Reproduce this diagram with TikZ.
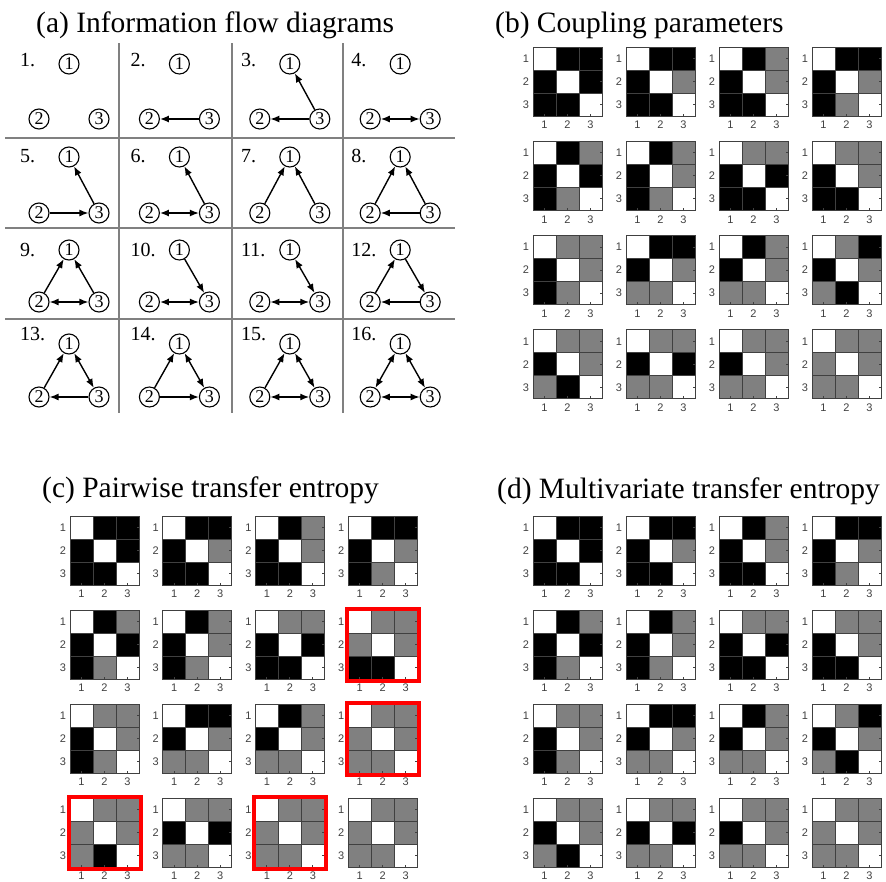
\documentclass[tikz,border=0pt]{standalone}
\usepackage{fontspec}
\setmainfont{Liberation Serif}
\newfontfamily\ticksf{Liberation Sans}
\usepackage{tikz}
\usetikzlibrary{arrows.meta}

\colorlet{cw}{white}
\colorlet{ck}{black}
\definecolor{cg}{gray}{0.5}
\definecolor{sepgray}{gray}{0.5}

\tikzset{
  vtx/.style={circle, draw, line width=1.1pt, inner sep=0pt, minimum size=20pt,
    font=\fontsize{18}{18}\selectfont},
  flow/.style={line width=1.4pt},
  lbl/.style={anchor=base west, inner sep=0pt, font=\fontsize{20}{20}\selectfont},
  ttl/.style={anchor=base west, inner sep=0pt, font=\fontsize{29.5}{30}\selectfont},
  sepline/.style={draw=sepgray, line width=2pt},
  cellln/.style={draw=black!75, line width=0.9pt},
  tick/.style={inner sep=0pt, text=black!75, font=\ticksf\fontsize{11}{11}\selectfont},
  redbox/.style={draw=red, line width=4pt},
}

% one 3x3 coupling matrix: name, left, top, nine colours (w/k/g)
\newcommand{\cmat}[4]{%
  \begin{scope}[shift={(#2,#3)}]
    \edef\mlist{#4}
    \coordinate (#1-nw) at (0,0);
    \coordinate (#1-se) at (69,69);
    \foreach \cl [count=\i from 0] in \mlist {
      \pgfmathtruncatemacro\mr{div(\i,3)}
      \pgfmathtruncatemacro\mc{mod(\i,3)}
      \fill[fill=c\cl] (23*\mc,23*\mr) rectangle ++(23,23);
    }
    \foreach \j in {23,46} {
      \draw[cellln] (\j,0) -- (\j,69);
      \draw[cellln] (0,\j) -- (69,\j);
    }
    \draw[cellln] (#1-nw) rectangle (#1-se);
    \foreach \j in {1,2,3} {
      \node[tick] (#1-r\j) at (-7,23*\j-11.5) {\j};
      \node[tick] (#1-c\j) at (23*\j-11.5,78) {\j};
      \draw[cellln] (69,23*\j-11.5) -- ++(-2.5,0);
      \draw[cellln] (23*\j-11.5,69) -- ++(0,-2.5);
    }
  \end{scope}}

\begin{document}
\begin{tikzpicture}[x=1pt, y=-1pt, >={Latex[length=9pt,width=7pt]}]
  \useasboundingbox (0,0) rectangle (886,881);

  \node[ttl] (ta) at (36,32) {(a) Information flow diagrams};
  \node[ttl] (tb) at (495,32) {(b) Coupling parameters};
  \node[ttl] (tc) at (42,497) {(c) Pairwise transfer entropy};
  \node[ttl] (td) at (497,498) {(d) Multivariate transfer entropy};

  % (a) grid of flow diagrams
  \draw[sepline] (5,138) -- (455,138);
  \draw[sepline] (5,228) -- (455,228);
  \draw[sepline] (5,319) -- (455,319);
  \draw[sepline] (119,43) -- (119,413);
  \draw[sepline] (232,43) -- (232,413);
  \draw[sepline] (343,43) -- (343,413);

  \foreach \k in {0,...,15} {
    \pgfmathtruncatemacro\n{\k+1}
    \pgfmathtruncatemacro\col{mod(\k,4)}
    \pgfmathtruncatemacro\row{div(\k,4)}
    \pgfmathsetmacro\cx{69+110.4*\col}
    \pgfmathsetmacro\ty{{64,157,250,344}[\row]}
    \pgfmathsetmacro\by{{119,213,302,397}[\row]}
    \pgfmathsetmacro\ly{{66,162,256,340}[\row]}
    \node[vtx] (f\n-1) at (\cx,\ty) {1};
    \node[vtx] (f\n-2) at (\cx-30,\by) {2};
    \node[vtx] (f\n-3) at (\cx+30,\by) {3};
    \node[lbl] (n\n) at (\cx-49,\ly) {\n.};
  }

  \foreach \d/\a/\b in {2/3/2, 3/3/1, 3/3/2, 5/3/1, 5/2/3, 6/3/1, 7/2/1, 7/3/1,
      8/2/1, 8/3/1, 8/3/2, 9/2/1, 9/3/1, 10/1/3, 12/2/1, 12/1/3, 12/3/2,
      13/2/1, 13/3/2, 14/2/1, 14/2/3, 15/2/1}
    \draw[flow,->] (f\d-\a) -- (f\d-\b);
  \foreach \d/\a/\b in {4/2/3, 6/2/3, 9/2/3, 10/2/3, 11/1/3, 11/2/3, 13/1/3,
      14/1/3, 15/1/3, 15/2/3, 16/1/2, 16/1/3, 16/2/3}
    \draw[flow,<->] (f\d-\a) -- (f\d-\b);

  % (b) and (d) coupling matrices
  \foreach \v [count=\k from 0] in {
      {w,k,k,k,w,k,k,k,w}, {w,k,k,k,w,g,k,k,w}, {w,k,g,k,w,g,k,k,w}, {w,k,k,k,w,g,k,g,w},
      {w,k,g,k,w,k,k,g,w}, {w,k,g,k,w,g,k,g,w}, {w,g,g,k,w,k,k,k,w}, {w,g,g,k,w,g,k,k,w},
      {w,g,g,k,w,g,k,g,w}, {w,k,k,k,w,g,g,g,w}, {w,k,g,k,w,g,g,g,w}, {w,g,k,k,w,g,g,k,w},
      {w,g,g,k,w,g,g,k,w}, {w,g,g,k,w,k,g,g,w}, {w,g,g,k,w,g,g,g,w}, {w,g,g,g,w,g,g,g,w}} {
    \pgfmathtruncatemacro\n{\k+1}
    \pgfmathsetmacro\mx{533+93*mod(\k,4)}
    \pgfmathsetmacro\my{47+94.3*div(\k,4)}
    \cmat{mb\n}{\mx}{\my}{\v}
    \pgfmathsetmacro\my{516+94*div(\k,4)}
    \cmat{md\n}{\mx}{\my}{\v}
  }

  % (c) pairwise estimates
  \foreach \v [count=\k from 0] in {
      {w,k,k,k,w,k,k,k,w}, {w,k,k,k,w,g,k,k,w}, {w,k,g,k,w,g,k,k,w}, {w,k,k,k,w,g,k,g,w},
      {w,k,g,k,w,k,k,g,w}, {w,k,g,k,w,g,k,g,w}, {w,g,g,k,w,k,k,k,w}, {w,g,g,g,w,g,k,k,w},
      {w,g,g,k,w,g,k,g,w}, {w,k,k,k,w,g,g,g,w}, {w,k,g,k,w,g,g,g,w}, {w,g,g,g,w,g,g,g,w},
      {w,g,g,g,w,g,g,k,w}, {w,g,g,k,w,k,g,g,w}, {w,g,g,g,w,g,g,g,w}, {w,g,g,g,w,g,g,g,w}} {
    \pgfmathtruncatemacro\n{\k+1}
    \pgfmathsetmacro\mx{70+92.7*mod(\k,4)}
    \pgfmathsetmacro\my{516+94*div(\k,4)}
    \cmat{mc\n}{\mx}{\my}{\v}
  }

  \foreach \n in {8,12,13,15}
    \draw[redbox] ([shift={(-1.5,-1.5)}]mc\n-nw) rectangle ([shift={(1.5,1.5)}]mc\n-se);
\end{tikzpicture}
\end{document}
